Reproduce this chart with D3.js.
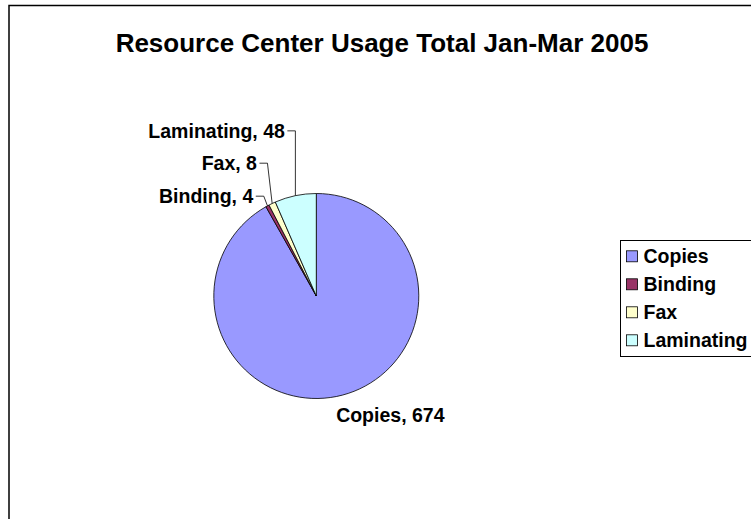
<!DOCTYPE html>
<html>
<head>
<meta charset="utf-8">
<script src="https://cdn.jsdelivr.net/npm/d3@7"></script>
<style>
  body { margin: 0; background: #fff; }
  text { font-family: "Liberation Sans", Arial, sans-serif; font-weight: bold; fill: #000; }
</style>
</head>
<body>
<div id="vis"></div>
<script>
// Chart data
var categories = ['Copies', 'Binding', 'Fax', 'Laminating'];
var values = [674, 4, 8, 48];
var colors = ['#9999FF', '#993366', '#FFFFCC', '#CCFFFF'];
var title = 'Resource Center Usage Total Jan-Mar 2005';

var width = 751;
var height = 519;

var svg = d3.select('#vis')
    .append('svg')
    .attr('width', width)
    .attr('height', height);

// Chart border (runs off the right and bottom of the picture)
svg.append('rect')
    .attr('x', 9)
    .attr('y', 5.5)
    .attr('width', 800)
    .attr('height', 600)
    .attr('fill', '#fff')
    .attr('stroke', '#000')
    .attr('stroke-width', 1.5);

svg.append('text')
    .attr('x', 382)
    .attr('y', 51.7)
    .attr('text-anchor', 'middle')
    .style('font-size', '26px')
    .text(title);

var data = categories.map(function(c, i) {
    return { name: c, value: values[i], color: colors[i] };
});

// Pie layout, clockwise from 12 o'clock in data order
var cx = 316.3, cy = 296, radius = 102.5;
var pie = d3.pie().sort(null).value(function(d) { return d.value; });
var arc = d3.arc().innerRadius(0).outerRadius(radius);
var arcs = pie(data);

var g = svg.append('g')
    .attr('transform', 'translate(' + cx + ',' + cy + ')');

g.selectAll('path')
    .data(arcs)
    .enter().append('path')
    .attr('d', arc)
    .attr('fill', function(d) { return d.data.color; })
    .attr('stroke', '#000')
    .attr('stroke-width', 0.8);

// Label placement: elbow offset from the slice's outer mid point
var labelLayout = {
    Copies: { dx: 48, dy: 27, leader: false },
    Binding: { dx: -3.7, dy: -9.7, leader: true },
    Fax: { dx: -4.7, dy: -40.3, leader: true },
    Laminating: { dx: 0, dy: -64.8, leader: true }
};

arcs.forEach(function(d) {
    var mid = (d.startAngle + d.endAngle) / 2;
    var px = radius * Math.sin(mid);
    var py = -radius * Math.cos(mid);
    var lay = labelLayout[d.data.name];
    var ex = px + lay.dx, ey = py + lay.dy;
    var label = d.data.name + ', ' + d.data.value;
    if (lay.leader) {
        g.append('path')
            .attr('d', d3.line()([[ex - 8, ey], [ex, ey], [px, py]]))
            .attr('fill', 'none')
            .attr('stroke', '#000')
            .attr('stroke-width', 0.8);
        g.append('text')
            .attr('x', ex - 10.5)
            .attr('y', ey + 6.8)
            .attr('text-anchor', 'end')
            .style('font-size', '19.5px')
            .text(label);
    } else {
        g.append('text')
            .attr('x', ex)
            .attr('y', ey)
            .attr('text-anchor', 'middle')
            .style('font-size', '19.5px')
            .text(label);
    }
});

// Legend (also cut off on the right)
var legend = svg.append('g')
    .attr('transform', 'translate(620,240)');

legend.append('rect')
    .attr('x', 0.5)
    .attr('y', 0.5)
    .attr('width', 140)
    .attr('height', 116)
    .attr('fill', '#fff')
    .attr('stroke', '#000')
    .attr('stroke-width', 1);

var items = legend.selectAll('g.item')
    .data(data)
    .enter().append('g')
    .attr('class', 'item')
    .attr('transform', function(d, i) { return 'translate(0,' + (23.3 + i * 28) + ')'; });

items.append('rect')
    .attr('x', 6.5)
    .attr('y', -12.5)
    .attr('width', 11)
    .attr('height', 11)
    .attr('fill', function(d) { return d.color; })
    .attr('stroke', '#000')
    .attr('stroke-width', 0.8);

items.append('text')
    .attr('x', 23.5)
    .attr('y', 0)
    .style('font-size', '19.5px')
    .text(function(d) { return d.name; });
</script>
</body>
</html>
